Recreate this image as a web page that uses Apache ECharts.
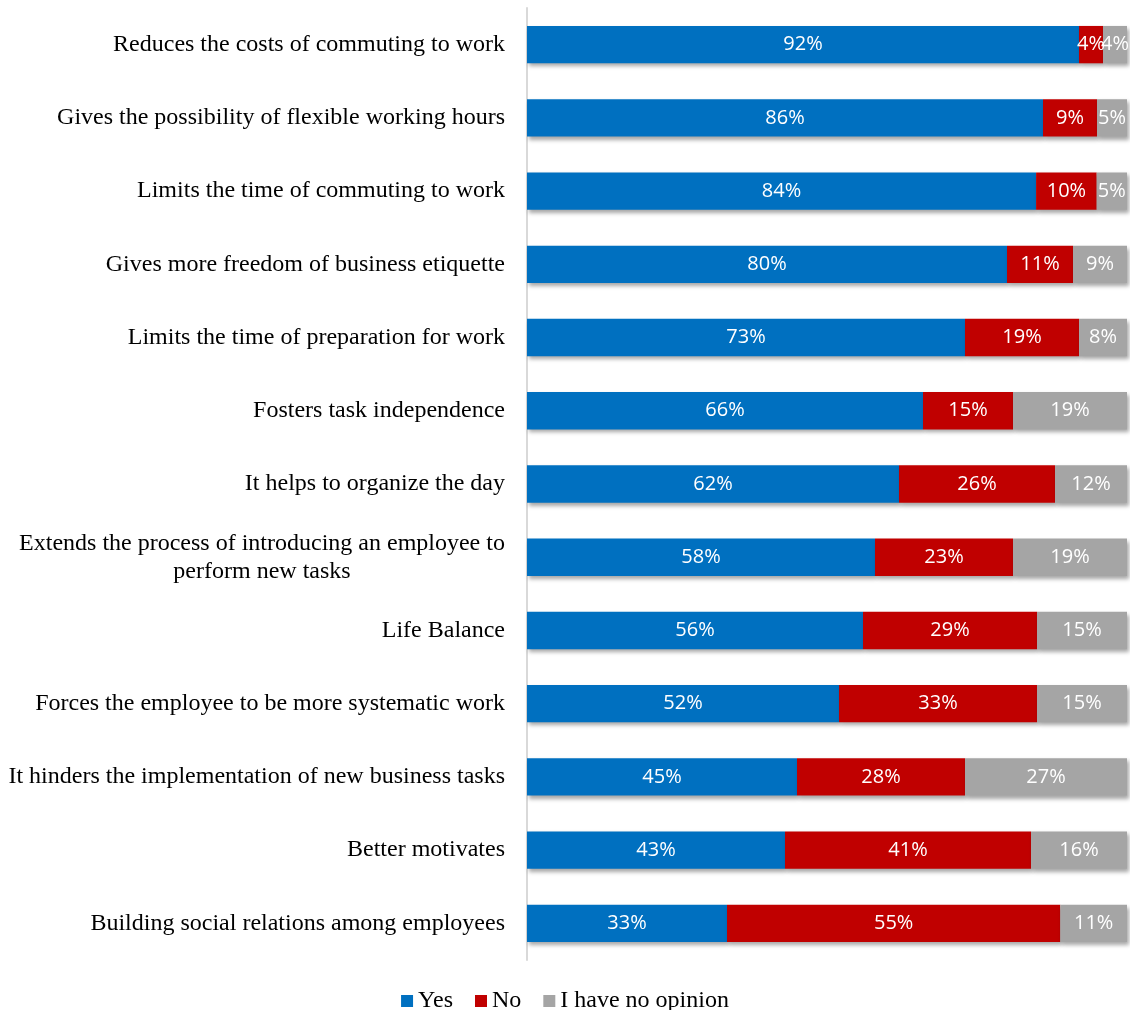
<!DOCTYPE html>
<html>
<head>
<meta charset="utf-8">
<script src="https://cdn.jsdelivr.net/npm/echarts@6/dist/echarts.min.js"></script>
<style>
  html, body { margin: 0; padding: 0; background: #fff; }
  #chart { width: 1130px; height: 1010px; }
</style>
</head>
<body>
<div id="chart"></div>
<script>
const categories = [
  "Reduces the costs of commuting to work",
  "Gives the possibility of flexible working hours",
  "Limits the time of commuting to work",
  "Gives more freedom of business etiquette",
  "Limits the time of preparation for work",
  "Fosters task independence",
  "It helps to organize the day",
  "Extends the process of introducing an employee to\nperform new tasks",
  "Life Balance",
  "Forces the employee to be more systematic work",
  "It hinders the implementation of new business tasks",
  "Better motivates",
  "Building social relations among employees"
];
const yes = [92, 86, 84, 80, 73, 66, 62, 58, 56, 52, 45, 43, 33];
const no = [4, 9, 10, 11, 19, 15, 26, 23, 29, 33, 28, 41, 55];
const noOpinion = [4, 5, 5, 9, 8, 19, 12, 19, 15, 15, 27, 16, 11];

// 100% stacked: each row scaled to its own total
const totals = yes.map((v, i) => v + no[i] + noOpinion[i]);
const share = (arr) => arr.map((v, i) => ({ value: v / totals[i] * 100, raw: v }));

let myChart = echarts.init(document.getElementById("chart"));

const barStyle = (color) => ({
  color: color,
  shadowBlur: 4,
  shadowOffsetX: 2,
  shadowOffsetY: 3,
  shadowColor: "rgba(0,0,0,0.35)"
});

const barLabel = {
  show: true,
  position: "inside",
  color: "#fff",
  fontFamily: "Open Sans",
  fontSize: 20,
  formatter: (p) => p.data.raw + "%"
};

const makeSeries = (name, arr, color) => ({
  name: name,
  type: "bar",
  stack: "total",
  barWidth: "51%",
  data: share(arr),
  itemStyle: barStyle(color),
  label: barLabel
});

let option = {
  animation: false,
  textStyle: { fontFamily: "Liberation Serif" },
  legend: {
    top: 984,
    left: "center",
    icon: "rect",
    itemWidth: 12,
    itemHeight: 12,
    itemGap: 22,
    textStyle: { fontFamily: "Liberation Serif", fontSize: 24, color: "#000" },
    data: ["Yes", "No", "I have no opinion"]
  },
  grid: { left: 527, right: 3, top: 8, bottom: 50 },
  xAxis: {
    type: "value",
    min: 0,
    max: 100,
    show: false
  },
  yAxis: {
    type: "category",
    inverse: true,
    data: categories,
    axisLine: { show: true, lineStyle: { color: "#d9d9d9", width: 2 } },
    axisTick: { show: false },
    axisLabel: {
      margin: 22,
      color: "#000",
      fontFamily: "Liberation Serif",
      fontSize: 24,
      lineHeight: 28,
      formatter: (v) => {
        if (v.indexOf("\n") < 0) return v;
        return v.split("\n").map((s) => "{c|" + s + "}").join("\n");
      },
      rich: {
        c: {
          width: 486,
          align: "center",
          fontFamily: "Liberation Serif",
          fontSize: 24,
          lineHeight: 28,
          color: "#000"
        }
      }
    }
  },
  series: [
    makeSeries("Yes", yes, "#0070c0"),
    makeSeries("No", no, "#c00000"),
    makeSeries("I have no opinion", noOpinion, "#a5a5a5")
  ]
};

option && myChart.setOption(option);
</script>
</body>
</html>
